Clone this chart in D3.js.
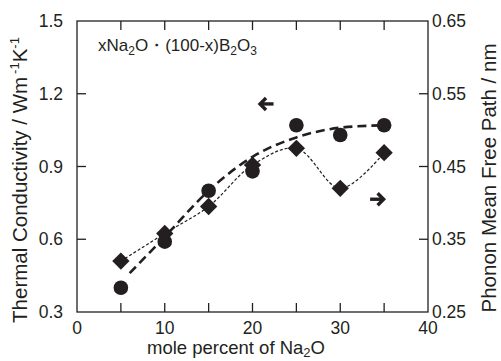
<!DOCTYPE html>
<html>
<head>
<meta charset="utf-8">
<script src="https://cdn.jsdelivr.net/npm/d3@7"></script>
<style>
  body { margin: 0; background: #fff; }
  text { font-family: "Liberation Sans", Arial, sans-serif; fill: #231f20; }
</style>
</head>
<body>
<div id="viz"></div>
<script>
// mole percent of Na2O
var molePct = [5, 10, 15, 20, 25, 30, 35];
// thermal conductivity (W m-1 K-1), circles, left axis
var conductivity = [0.40, 0.59, 0.80, 0.88, 1.07, 1.03, 1.07];
// phonon mean free path (nm), diamonds, right axis
var freePath = [0.320, 0.358, 0.395, 0.452, 0.475, 0.420, 0.469];
// thick dashed fit through the circles
var fitX = [6, 10, 15, 20, 25, 30, 35];
var fitK = [0.46, 0.61, 0.80, 0.94, 1.02, 1.06, 1.07];

var xTicks = [0, 10, 20, 30, 40],
    xMinor = [5, 10, 15, 20, 25, 30, 35],
    leftTicks = [0.3, 0.6, 0.9, 1.2, 1.5],
    rightTicks = [0.25, 0.35, 0.45, 0.55, 0.65];

var width = 501, height = 361,
    margin = { top: 21, right: 73, bottom: 49, left: 77 },
    w = width - margin.left - margin.right,
    h = height - margin.top - margin.bottom,
    ink = '#231f20';

var svg = d3.select('#viz').append('svg')
    .attr('width', width)
    .attr('height', height)

var g = svg.append('g')
    .attr('transform', 'translate(' + margin.left + ',' + margin.top + ')')

var xScale = d3.scaleLinear().domain([0, 40]).range([0, w])
var yLeft = d3.scaleLinear().domain([0.3, 1.5]).range([h, 0])
var yRight = d3.scaleLinear().domain([0.25, 0.65]).range([h, 0])

// frame
g.append('rect')
    .attr('width', w).attr('height', h)
    .attr('fill', 'none').attr('stroke', ink).attr('stroke-width', 1.3)

// inner ticks
var tickLen = 9
g.selectAll('.xb').data(xMinor).enter().append('line')
    .attr('x1', function(d) { return xScale(d) }).attr('x2', function(d) { return xScale(d) })
    .attr('y1', h).attr('y2', h - tickLen)
    .attr('stroke', ink).attr('stroke-width', 1.3)
g.selectAll('.xt').data(xMinor).enter().append('line')
    .attr('x1', function(d) { return xScale(d) }).attr('x2', function(d) { return xScale(d) })
    .attr('y1', 0).attr('y2', tickLen)
    .attr('stroke', ink).attr('stroke-width', 1.3)
g.selectAll('.yl').data(leftTicks.slice(1, -1)).enter().append('line')
    .attr('x1', 0).attr('x2', tickLen)
    .attr('y1', function(d) { return yLeft(d) }).attr('y2', function(d) { return yLeft(d) })
    .attr('stroke', ink).attr('stroke-width', 1.3)
g.selectAll('.yr').data(rightTicks.slice(1, -1)).enter().append('line')
    .attr('x1', w).attr('x2', w - tickLen)
    .attr('y1', function(d) { return yRight(d) }).attr('y2', function(d) { return yRight(d) })
    .attr('stroke', ink).attr('stroke-width', 1.3)

// tick labels
g.selectAll('.xl').data(xTicks).enter().append('text')
    .attr('x', function(d) { return xScale(d) })
    .attr('y', h + 22)
    .attr('text-anchor', 'middle')
    .style('font-size', '17.5px')
    .text(function(d) { return d })

g.selectAll('.ll').data(leftTicks).enter().append('text')
    .attr('x', -14)
    .attr('y', function(d) { return yLeft(d) + 6 })
    .attr('text-anchor', 'end')
    .style('font-size', '17.5px')
    .text(function(d) { return d.toFixed(1) })

g.selectAll('.rl').data(rightTicks).enter().append('text')
    .attr('x', w + 4)
    .attr('y', function(d) { return yRight(d) + 6 })
    .style('font-size', '17.5px')
    .text(function(d) { return d.toFixed(2) })

// fit curves
var fitLine = d3.line()
    .x(function(d) { return xScale(d[0]) })
    .y(function(d) { return yLeft(d[1]) })
    .curve(d3.curveMonotoneX)

g.append('path')
    .datum(d3.zip(fitX, fitK))
    .attr('d', fitLine)
    .attr('fill', 'none').attr('stroke', ink)
    .attr('stroke-width', 2.6).attr('stroke-dasharray', '9,5')

var pathLine = d3.line()
    .x(function(d) { return xScale(d[0]) })
    .y(function(d) { return yRight(d[1]) })
    .curve(d3.curveCatmullRom.alpha(0.5))

g.append('path')
    .datum(d3.zip(molePct, freePath))
    .attr('d', pathLine)
    .attr('fill', 'none').attr('stroke', ink)
    .attr('stroke-width', 1.2).attr('stroke-dasharray', '3,2')

// markers
g.selectAll('.dot').data(d3.zip(molePct, conductivity)).enter().append('circle')
    .attr('cx', function(d) { return xScale(d[0]) })
    .attr('cy', function(d) { return yLeft(d[1]) })
    .attr('r', 7.3)
    .attr('fill', ink)

var diamond = d3.symbol().type(d3.symbolSquare).size(150)
g.selectAll('.dia').data(d3.zip(molePct, freePath)).enter().append('path')
    .attr('d', diamond)
    .attr('transform', function(d) {
        return 'translate(' + xScale(d[0]) + ',' + yRight(d[1]) + ') rotate(45)'
    })
    .attr('fill', ink)

// arrows pointing to the axis each series belongs to
function arrow(x, y, dir) {
    var a = g.append('g').attr('transform', 'translate(' + x + ',' + y + ') scale(' + dir + ',1)')
    a.append('line').attr('x1', -5).attr('x2', 7).attr('y1', 0).attr('y2', 0)
        .attr('stroke', ink).attr('stroke-width', 3.4)
    a.append('path').attr('d', 'M-0.5,-6 L-6.5,0 L-0.5,6')
        .attr('fill', 'none').attr('stroke', ink).attr('stroke-width', 3.4)
}
arrow(xScale(21.6), yLeft(1.158), 1)
arrow(xScale(34.2), yRight(0.405), -1)

// composition label
var comp = g.append('text')
    .attr('x', 21).attr('y', 30)
    .style('font-size', '17px')
comp.append('tspan').text('xNa')
comp.append('tspan').attr('dy', 4).style('font-size', '12px').text('2')
comp.append('tspan').attr('dy', -4).text('O\u30FB(100-x)B')
comp.append('tspan').attr('dy', 4).style('font-size', '12px').text('2')
comp.append('tspan').attr('dy', -4).text('O')
comp.append('tspan').attr('dy', 4).style('font-size', '12px').text('3')

// axis titles
var xt = svg.append('text')
    .attr('x', 236).attr('y', 354)
    .attr('text-anchor', 'middle')
    .style('font-size', '18.5px')
xt.append('tspan').text('mole percent of Na')
xt.append('tspan').attr('dy', 3).style('font-size', '13px').text('2')
xt.append('tspan').attr('dy', -3).text('O')

var lt = svg.append('text')
    .attr('transform', 'translate(27,180) rotate(-90)')
    .attr('text-anchor', 'middle')
    .style('font-size', '20.5px')
lt.append('tspan').text('Thermal Conductivity / Wm')
lt.append('tspan').attr('dy', -8).attr('dx', 3).style('font-size', '13px').text('-1')
lt.append('tspan').attr('dy', 8).text('K')
lt.append('tspan').attr('dy', -8).style('font-size', '13px').text('-1')

svg.append('text')
    .attr('transform', 'translate(496,178) rotate(-90)')
    .attr('text-anchor', 'middle')
    .style('font-size', '20.5px')
    .text('Phonon Mean Free Path / nm')
</script>
</body>
</html>
